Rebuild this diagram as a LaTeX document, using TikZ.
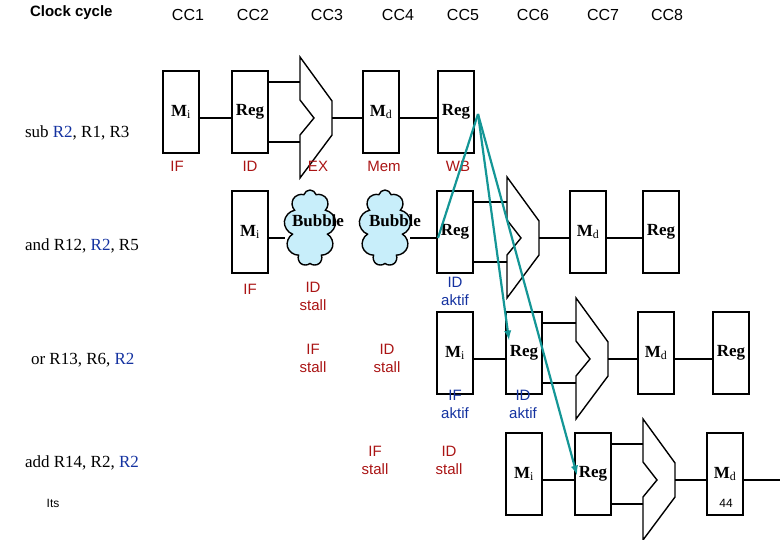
\documentclass[tikz,border=0pt]{standalone}
\usepackage{fontspec}
\setmainfont{Liberation Serif}
\setsansfont{Liberation Sans}
\usetikzlibrary{arrows,shapes,calc}
\definecolor{stred}{RGB}{170,20,20}
\definecolor{stblue}{RGB}{20,50,160}
\definecolor{fwd}{RGB}{20,150,150}
\definecolor{bub}{RGB}{200,238,250}
\begin{document}
\begin{tikzpicture}[x=1pt,y=-1pt,line width=1.4pt,
    box/.style={draw,minimum width=36pt,minimum height=82pt,inner sep=0pt,font=\fontsize{17}{17}\selectfont},
    bubble/.style={draw,cloud,cloud puffs=9,aspect=0.6,fill=bub,minimum width=52pt,minimum height=76pt,inner sep=0pt},
    cc/.style={font=\sffamily\fontsize{16}{16}\selectfont},
    instr/.style={font=\fontsize{17}{17}\selectfont,anchor=west},
    st/.style={font=\sffamily\fontsize{15}{18}\selectfont,text=stred,align=center},
    ak/.style={st,text=stblue}]
    \useasboundingbox (0,0) rectangle (780,540);
    \def\Mi{\textbf{M}$_\mathrm{i}$}
    \def\Md{\textbf{M}$_\mathrm{d}$}
    \def\Rg{\textbf{Reg}}
    % ALU: #1 name, #2 left x, #3 wire level
    \def\alu#1#2#3{
      \draw (#2,#3-61) -- (#2+32,#3-17) -- (#2+32,#3+17) -- (#2,#3+60)
        -- (#2,#3+17) -- (#2+14,#3) -- (#2,#3-18) -- cycle;
      \coordinate (#1a) at (#2,#3-36);
      \coordinate (#1b) at (#2,#3+24);
      \coordinate (#1o) at (#2+32,#3);
    }
    % header
    \node[font=\sffamily\bfseries\fontsize{15}{15}\selectfont,anchor=west] (clk) at (26,13) {Clock cycle};
    \foreach \x/\n in {188/1,253/2,327/3,398/4,463/5,533/6,603/7,667/8}
      \node[cc] (cc\n) at (\x,15) {CC\n};
    % instructions
    \node[instr] (in1) at (21,133) {sub \textcolor{stblue}{R2}, R1, R3};
    \node[instr] (in2) at (21,246) {and R12, \textcolor{stblue}{R2}, R5};
    \node[instr] (in3) at (27,360) {or R13, R6, \textcolor{stblue}{R2}};
    \node[instr] (in4) at (21,463) {add R14, R2, \textcolor{stblue}{R2}};
    % row 1
    \node[box] (i1) at (181,112) {\Mi};
    \node[box] (r1) at (250,112) {\Rg};
    \alu{a1}{300}{118}
    \node[box] (d1) at (381,112) {\Md};
    \node[box] (w1) at (456,112) {\Rg};
    \draw (i1.east|-a1o) -- (r1.west|-a1o);
    \draw (r1.east|-a1a) -- (a1a) (r1.east|-a1b) -- (a1b);
    \draw (a1o) -- (d1.west|-a1o) (d1.east|-a1o) -- (w1.west|-a1o);
    % row 2
    \node[box] (i2) at (250,232) {\Mi};
    \node[bubble] (b1) at (310,228) {};
    \node[bubble] (b2) at (385,228) {};
    \node[font=\bfseries\fontsize{17}{17}\selectfont] (bt1) at (318,221) {Bubble};
    \node[font=\bfseries\fontsize{17}{17}\selectfont] (bt2) at (395,221) {Bubble};
    \node[box] (r2) at (455,232) {\Rg};
    \alu{a2}{507}{238}
    \node[box] (d2) at (588,232) {\Md};
    \node[box] (w2) at (661,232) {\Rg};
    \draw (i2.east|-0,238) -- (b1.west|-0,238);
    \draw (b2.east|-0,238) -- (r2.west|-0,238);
    \draw (r2.east|-a2a) -- (a2a) (r2.east|-a2b) -- (a2b);
    \draw (a2o) -- (d2.west|-a2o) (d2.east|-a2o) -- (w2.west|-a2o);
    % row 3
    \node[box] (i3) at (455,353) {\Mi};
    \node[box] (r3) at (524,353) {\Rg};
    \alu{a3}{576}{359}
    \node[box] (d3) at (656,353) {\Md};
    \node[box] (w3) at (731,353) {\Rg};
    \draw (i3.east|-a3o) -- (r3.west|-a3o);
    \draw (r3.east|-a3a) -- (a3a) (r3.east|-a3b) -- (a3b);
    \draw (a3o) -- (d3.west|-a3o) (d3.east|-a3o) -- (w3.west|-a3o);
    % row 4
    \node[box] (i4) at (524,474) {\Mi};
    \node[box] (r4) at (593,474) {\Rg};
    \alu{a4}{643}{480}
    \node[box] (d4) at (725,474) {\Md};
    \coordinate (e4) at (780,480);
    \draw (i4.east|-a4o) -- (r4.west|-a4o);
    \draw (r4.east|-a4a) -- (a4a) (r4.east|-a4b) -- (a4b);
    \draw (a4o) -- (d4.west|-a4o) (d4.east|-a4o) -- (e4);
    % stage labels
    \node[st] (s11) at (177,166) {IF};
    \node[st] (s12) at (250,166) {ID};
    \node[st] (s13) at (318,166) {EX};
    \node[st] (s14) at (384,166) {Mem};
    \node[st] (s15) at (458,166) {WB};
    \node[st] (s21) at (250,289) {IF};
    \node[st] (s22) at (313,296) {ID\\stall};
    \node[ak] (s23) at (455,291) {ID\\aktif};
    \node[st] (s31) at (313,358) {IF\\stall};
    \node[st] (s32) at (387,358) {ID\\stall};
    \node[ak] (s33) at (455,404) {IF\\aktif};
    \node[ak] (s34) at (523,404) {ID\\aktif};
    \node[st] (s41) at (375,460) {IF\\stall};
    \node[st] (s42) at (449,460) {ID\\stall};
    % forwarding
    \coordinate (fw) at (478,114);
    \coordinate (f2) at (438,238);
    \coordinate (f3) at (509,340);
    \coordinate (f4) at (577,475);
    \draw[fwd,line width=2.2pt] (fw) -- (f2);
    \draw[fwd,line width=2.2pt,-latex] (fw) -- (f3);
    \draw[fwd,line width=2.2pt,-latex] (fw) -- (f4);
    \node[font=\sffamily\fontsize{12}{12}\selectfont] (its) at (53,503) {Its};
    \node[font=\sffamily\fontsize{12}{12}\selectfont] (pg) at (726,503) {44};
\end{tikzpicture}
\end{document}
